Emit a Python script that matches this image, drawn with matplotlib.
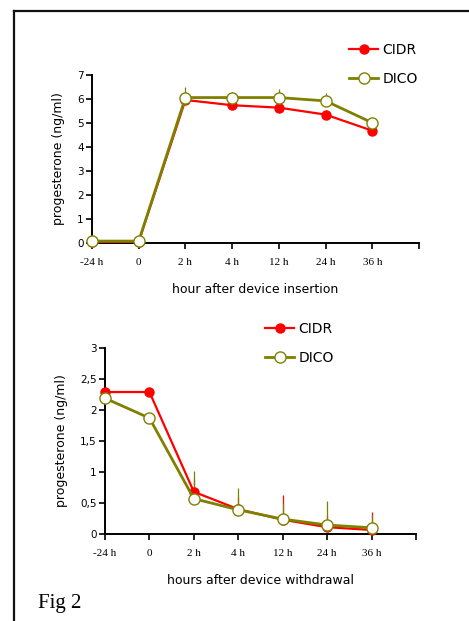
import matplotlib
matplotlib.use("Agg")
import matplotlib.pyplot as plt
from matplotlib.lines import Line2D
import numpy as np

# data
times = ["-24 h", "0", "2 h", "4 h", "12 h", "24 h", "36 h"]

ins_cidr = [0.05, 0.05, 5.96, 5.74, 5.64, 5.35, 4.68]
ins_dico = [0.08, 0.08, 6.06, 6.06, 6.06, 5.92, 5.01]
ins_cidr_err = [0.0, 0.0, 0.0, 0.0, 0.0, 0.2, 0.1]
ins_dico_err = [0.0, 0.0, 0.43, 0.25, 0.35, 0.34, 0.15]

wd_cidr = [2.29, 2.29, 0.68, 0.40, 0.23, 0.11, 0.065]
wd_dico = [2.19, 1.87, 0.57, 0.39, 0.24, 0.145, 0.10]
wd_cidr_err = [0.0, 0.0, 0.2, 0.2, 0.40, 0.2, 0.29]
wd_dico_err = [0.0, 0.0, 0.45, 0.35, 0.26, 0.385, 0.2]

ins_yticks = [0, 1, 2, 3, 4, 5, 6, 7]
ins_ylabels = ["0", "1", "2", "3", "4", "5", "6", "7"]
wd_yticks = [0, 0.5, 1, 1.5, 2, 2.5, 3]
wd_ylabels = ["0", "0,5", "1", "1,5", "2", "2,5", "3"]

RED = "#ff0000"
OLIVE = "#808000"
W, H = 469, 621

fig = plt.figure(figsize=(W / 100, H / 100), dpi=100)


def panel(rect, cidr, dico, cerr, derr, yticks, ylabels, xlabel, leg_xy):
    ax = fig.add_axes(rect)
    x = np.arange(len(times))
    ax.vlines(x, np.array(cidr), np.array(cidr) + np.array(cerr), color=RED, lw=0.9, zorder=2)
    ax.vlines(x, np.array(dico), np.array(dico) + np.array(derr), color=OLIVE, lw=0.9, zorder=2)
    ax.plot(x, cidr, color=RED, lw=1.6, marker="o", ms=6.5, mfc=RED, mec=RED,
            label="CIDR", zorder=3, clip_on=False)
    ax.plot(x, dico, color=OLIVE, lw=2.0, marker="o", ms=8, mfc="white", mec=OLIVE,
            mew=1.0, label="DICO", zorder=4, clip_on=False)
    ax.set_xlim(0, 7)
    ax.set_ylim(yticks[0], yticks[-1])
    ax.set_xticks(np.arange(8))
    ax.set_xticklabels(times + [""], family="Liberation Serif", fontsize=8)
    ax.set_yticks(yticks)
    ax.set_yticklabels(ylabels, family="DejaVu Sans", fontsize=7.5)
    ax.tick_params(direction="out", length=4, width=1.2, pad=2)
    ax.tick_params(axis="x", pad=7)
    for s in ["top", "right"]:
        ax.spines[s].set_visible(False)
    for s in ["left", "bottom"]:
        ax.spines[s].set_linewidth(1.4)
    ax.set_ylabel("progesterone (ng/ml)", family="DejaVu Sans", fontsize=9, labelpad=9)
    ax.set_xlabel(xlabel, family="DejaVu Sans", fontsize=9, labelpad=11)
    fig.legend(*ax.get_legend_handles_labels(), loc="upper left", bbox_to_anchor=leg_xy,
               frameon=False, borderpad=0, borderaxespad=0, handlelength=2.1,
               handletextpad=0.3, labelspacing=1.05, prop={"family": "DejaVu Sans", "size": 10})
    return ax


panel([92 / W, 1 - 243 / H, 327 / W, 168 / H], ins_cidr, ins_dico, ins_cidr_err, ins_dico_err,
      ins_yticks, ins_ylabels, "hour after device insertion", (349 / W, 1 - 43 / H))
panel([105 / W, 1 - 534 / H, 311 / W, 186 / H], wd_cidr, wd_dico, wd_cidr_err, wd_dico_err,
      wd_yticks, wd_ylabels, "hours after device withdrawal", (265 / W, 1 - 322 / H))

# frame around the figure (top and left only)
fig.add_artist(Line2D([14 / W, 1], [1 - 11 / H, 1 - 11 / H], color="#111111", lw=1.6))
fig.add_artist(Line2D([14 / W, 14 / W], [0, 1 - 11 / H], color="#111111", lw=1.6))

fig.text(38 / W, 1 - 608 / H, "Fig 2", family="Liberation Serif", fontsize=15, va="baseline")

fig.savefig("out.png", dpi=100)
